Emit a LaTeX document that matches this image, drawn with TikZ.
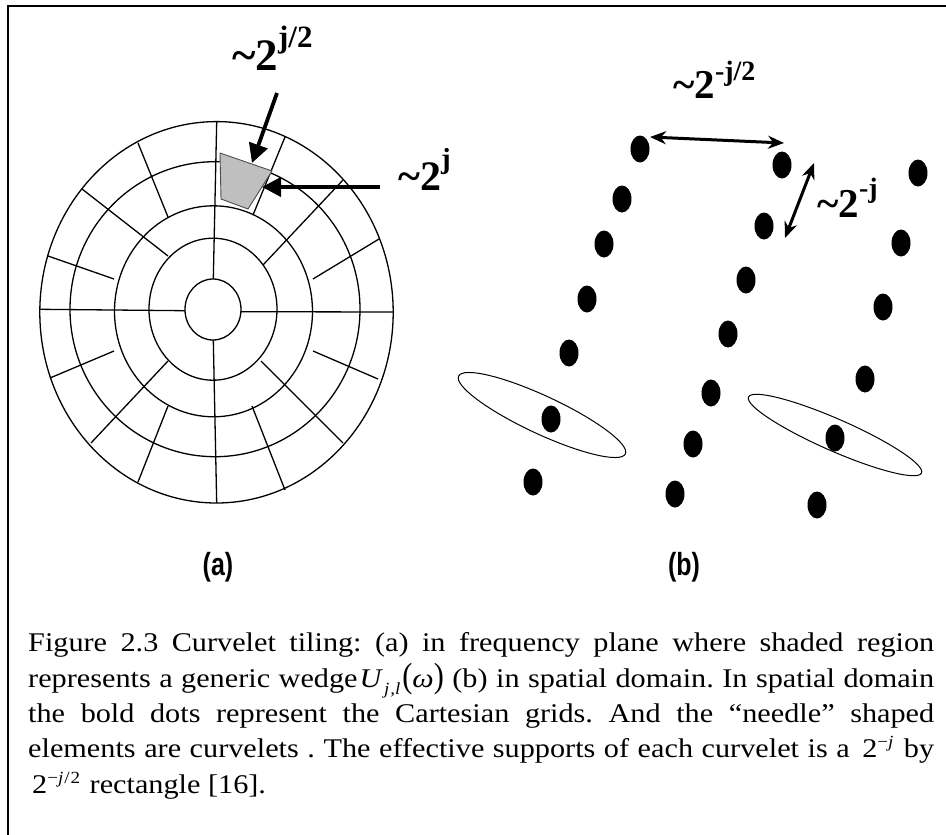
\documentclass[tikz,border=0pt]{standalone}
\usepackage{fontspec}
\usepackage{graphicx}
\setmainfont{Liberation Serif}
\newfontfamily\capfont[FakeStretch=1.12]{Liberation Serif}
\newfontfamily\narrowsans[FakeStretch=0.78]{Liberation Sans}
\usetikzlibrary{arrows.meta}
\newcommand{\capsize}{\capfont\fontsize{27}{36}\selectfont\frenchspacing}
\newcommand{\capsup}{\fontsize{17}{17}\selectfont}
\begin{document}
\begin{tikzpicture}[x=1pt,y=-1pt,
  ring/.style={draw=black,line width=1.3pt},
  spoke/.style={draw=black,line width=1.3pt},
  bigarrow/.style={line width=3.8pt,-{Triangle[length=19pt,width=19pt]}},
  dimarrow/.style={line width=3pt,{Stealth[length=16pt,width=13pt]}-{Stealth[length=16pt,width=13pt]}},
  needle/.style={draw=black,line width=1pt},
  biglabel/.style={anchor=base west,inner sep=0pt,font=\bfseries},
  capline/.style={anchor=base west,inner sep=0pt,font=\capsize},
  sublabel/.style={inner sep=0pt,font=\narrowsans\bfseries\fontsize{32}{32}\selectfont}]

\useasboundingbox (0,0) rectangle (946,835);
\fill[white] (0,0) rectangle (946,835);
\draw[line width=2pt] (8,835) -- (8,6) -- (946,6);

% ---- panel (a): polar tiling ----
\draw[ring] (216.5,312.3) ellipse [x radius=176.7, y radius=190.7];
\draw[ring] (215,309.2) ellipse [x radius=145, y radius=147.5];
\draw[ring] (213.5,311.3) ellipse [x radius=99, y radius=105.5];
\draw[ring] (213,309.2) ellipse [x radius=64, y radius=71];
\draw[ring] (213,309.5) ellipse [x radius=28, y radius=30.5];

% axes
\draw[spoke] (40,309.3) -- (185,310.7);
\draw[spoke] (240.7,311.7) -- (393,312);
\draw[spoke] (216.7,121.7) -- (213.3,279);
\draw[spoke] (213.3,340) -- (216.7,503);
% diagonals from ring 2
\draw[spoke] (263,265) -- (343,180);
\draw[spoke] (168,256) -- (82,189);
\draw[spoke] (168,361) -- (91,443);
\draw[spoke] (261,361) -- (343,443);
% lines from ring 3
\draw[spoke] (253,215) -- (285,137);
\draw[spoke] (313,279) -- (379,239);
\draw[spoke] (313,351) -- (378,379);
\draw[spoke] (252,406) -- (285,490);
\draw[spoke] (168,406) -- (138,482);
\draw[spoke] (114,351) -- (50,378);
\draw[spoke] (114,279) -- (48,256);
\draw[spoke] (168,217) -- (138,143);

% shaded wedge
\filldraw[fill=gray!50, draw=black!70, line width=0.9pt]
  (220,153) -- (272,171) -- (248,209) -- (221,199) -- cycle;

% arrows and labels of (a)
\coordinate (a1s) at (277,93);
\coordinate (a1e) at (252,163);
\coordinate (a2s) at (380,187);
\coordinate (a2e) at (262,187);
\draw[bigarrow] (a1s) -- (a1e);
\draw[bigarrow] (a2s) -- (a2e);
\node[biglabel] (lja) at (232,70) {\fontsize{45}{45}\selectfont\textasciitilde2\raisebox{23pt}{\fontsize{31}{31}\selectfont j/2}};
\node[biglabel] (ljb) at (398,190) {\fontsize{42}{42}\selectfont\textasciitilde2\raisebox{22pt}{\fontsize{29}{29}\selectfont j}};

% ---- panel (b): cartesian grid dots ----
\foreach \px/\py in {640/149,622/199,604/244,587/299,569/353,551/419,533/482,
                     782/165,764/226,746/280,728/334,711/393,693/444,675/494,
                     918/173,901/243,883/307,865/379,835/438,817/505}
  \fill[black] (\px,\py) ellipse [x radius=9.5, y radius=13.5];

% needles
\draw[needle, rotate around={-25:(542,415)}] (542,415) ellipse [x radius=92, y radius=19];
\draw[needle, rotate around={-23.7:(835,435)}] (835,435) ellipse [x radius=94.5, y radius=16];

% dimension arrows
\coordinate (d1s) at (650,137);
\coordinate (d1e) at (784,143);
\coordinate (d2s) at (814,163);
\coordinate (d2e) at (785,238);
\draw[dimarrow] (d1s) -- (d1e);
\draw[dimarrow] (d2s) -- (d2e);
\node[biglabel] (ljc) at (673,98) {\fontsize{41}{41}\selectfont\textasciitilde2\raisebox{18pt}{\fontsize{28}{28}\selectfont -j/2}};
\node[biglabel] (ljd) at (817,217) {\fontsize{41}{41}\selectfont\textasciitilde2\raisebox{20pt}{\fontsize{28}{28}\selectfont -j}};

% sub-figure labels
\node[sublabel] (pa) at (218,567) {(a)};
\node[sublabel] (pb) at (684,567) {(b)};

% caption
\node[capline] (c1) at (28,651) {\makebox[906pt][s]{Figure 2.3 Curvelet tiling: (a) in frequency plane where shaded region}};
\node[capline] (c2) at (28,687) {\makebox[906pt][s]{represents a generic wedge\kern2pt\textit{U}\kern1pt\raisebox{-7pt}{\capsup\textit{j\kern1pt,l}}\kern2pt\scalebox{1}[1.3]{(}\textit{ω}\scalebox{1}[1.3]{)} (b) in spatial domain. In spatial domain}};
\node[capline] (c3) at (28,722) {\makebox[906pt][s]{the bold dots represent the Cartesian grids. And the “needle” shaped}};
\node[capline] (c4) at (28,757) {\makebox[906pt][s]{elements are curvelets . The effective supports of each curvelet is a \kern4pt2\raisebox{10pt}{\capsup−\textit{j}}\kern2pt\ by}};
\node[capline] (c5) at (28,793) {\kern4pt2\raisebox{10pt}{\capsup−\textit{j}\kern1pt/\kern1pt2}\kern2pt\ rectangle [16].};
\end{tikzpicture}
\end{document}
